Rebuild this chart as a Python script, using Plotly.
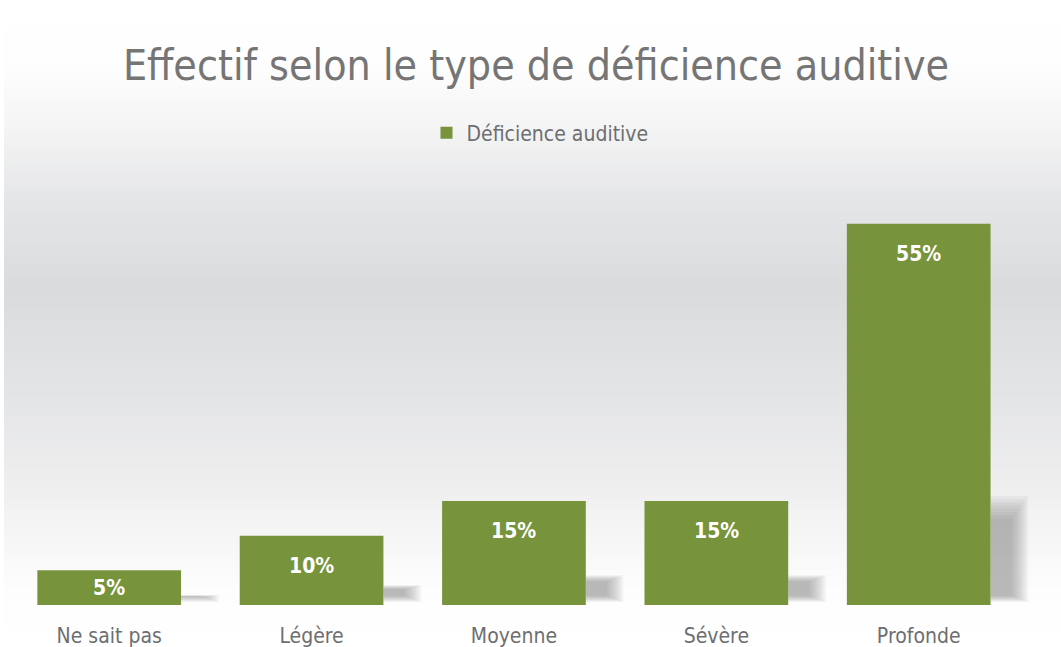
import plotly.graph_objects as go

categories = ["Ne sait pas", "Légère", "Moyenne", "Sévère", "Profonde"]
values = [5, 10, 15, 15, 55]
labels = ["5%", "10%", "15%", "15%", "55%"]
series_name = "Déficience auditive"
title_text = "Effectif selon le type de déficience auditive"

BAR = "#77933C"
FONT = "DejaVu Sans Condensed, Lato, sans-serif"
W, H = 1061, 647
ML, MR, MT, MB = 8, 33, 175, 42
YMAX = 62.05
px_per_unit = (H - MT - MB) / YMAX

fig = go.Figure()
fig.add_trace(go.Bar(
    x=categories, y=values, name=series_name,
    marker=dict(color=BAR, line=dict(width=0)),
    width=0.71, showlegend=True, hoverinfo="x+y",
))

# data labels (inside end)
off = 30 / px_per_unit
for c, v, t in zip(categories, values, labels):
    fig.add_annotation(x=c, y=max(v - off, v / 2), text=f"<b>{t}</b>",
                       showarrow=False, font=dict(family=FONT, size=21, color="white"),
                       xref="x", yref="y")

# soft shadows to the right of each bar
shapes = []
n_layers = 8
for i, v in enumerate(values):
    h = v * 0.27
    for k in range(n_layers):
        f = k / (n_layers - 1)
        shapes.append(dict(type="rect", xref="x", yref="y", layer="below",
                           x0=i + 0.355, x1=i + 0.355 + 0.185 - f * 0.08,
                           y0=0.45 + f * 0.9, y1=h * (1.06 - 0.22 * f),
                           fillcolor="#6e6e6e", opacity=0.08, line=dict(width=0)))

# background vertical gradient (paper)
stops = [(0, (255, 255, 255)), (60, (254, 254, 254)), (120, (246, 246, 246)),
         (200, (229, 230, 232)), (290, (218, 219, 221)), (400, (228, 229, 231)),
         (480, (238, 238, 239)), (540, (246, 246, 246)), (590, (253, 253, 253)),
         (647, (255, 255, 255))]

def col_at(y):
    for (y0, c0), (y1, c1) in zip(stops[:-1], stops[1:]):
        if y0 <= y <= y1:
            f = (y - y0) / (y1 - y0) if y1 > y0 else 0
            return tuple(round(a + (b - a) * f) for a, b in zip(c0, c1))
    return stops[-1][1]

ph = H - MT - MB
pw = W - ML - MR
step = 4
bg = []
for y in range(0, H, step):
    r, g, b = col_at(y + step / 2)
    py0 = (H - MB - (y + step)) / ph
    py1 = (H - MB - y) / ph + 0.002
    bg.append(dict(type="rect", xref="paper", yref="paper", layer="below",
                   x0=(-ML + 4) / pw, x1=1 + MR / pw,
                   y0=py0, y1=py1, fillcolor=f"rgb({r},{g},{b})", line=dict(width=0)))
shapes = bg + shapes

fig.update_layout(
    width=W, height=H,
    margin=dict(l=ML, r=MR, t=MT, b=MB, autoexpand=False),
    paper_bgcolor="white", plot_bgcolor="rgba(0,0,0,0)",
    title=dict(text=title_text, x=536 / W, xref="container", xanchor="center",
               y=1 - 65 / H, yref="container", yanchor="middle",
               font=dict(family=FONT, size=42.5, color="#757575")),
    legend=dict(orientation="h", x=540 / W, xanchor="center", xref="container",
                y=1 - 133 / H, yref="container", yanchor="middle",
                font=dict(family=FONT, size=21, color="#6d6e71"),
                bgcolor="rgba(0,0,0,0)", itemwidth=30),
    shapes=shapes,
    bargap=0.29,
    xaxis=dict(showgrid=False, showline=False, zeroline=False, ticks="",
               tickfont=dict(family=FONT, size=21, color="#6d6e71"),
               ticklabelstandoff=16, automargin=False),
    yaxis=dict(range=[0, YMAX], visible=False, showgrid=False, zeroline=False,
               automargin=False),
    font=dict(family=FONT),
)

fig.write_html("out.html", config={"displayModeBar": False},
               post_script="document.body.style.margin='0';document.body.style.overflow='hidden';")
